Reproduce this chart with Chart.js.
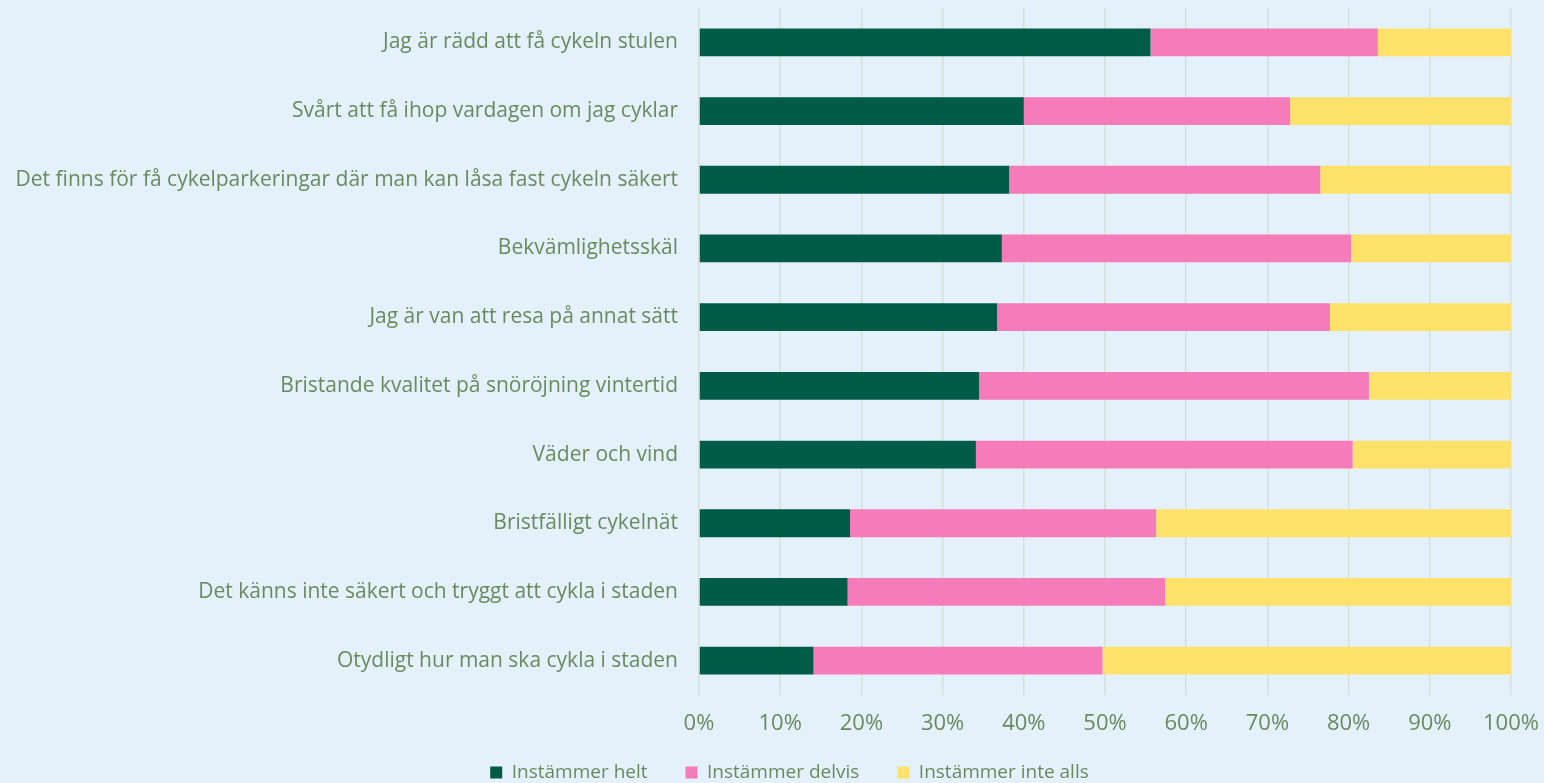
<!DOCTYPE html>
<html>
<head>
<meta charset="utf-8">
<script src="https://cdn.jsdelivr.net/npm/chart.js@4.4.0/dist/chart.umd.min.js"></script>
<style>
  html, body { margin: 0; padding: 0; background: #e4f1fb; }
  #wrap { width: 1544px; height: 783px; position: relative; }
</style>
</head>
<body>
<div id="wrap"><canvas id="chart"></canvas></div>
<script>
var categories = [
  "Jag är rädd att få cykeln stulen",
  "Svårt att få ihop vardagen om jag cyklar",
  "Det finns för få cykelparkeringar där man kan låsa fast cykeln säkert",
  "Bekvämlighetsskäl",
  "Jag är van att resa på annat sätt",
  "Bristande kvalitet på snöröjning vintertid",
  "Väder och vind",
  "Bristfälligt cykelnät",
  "Det känns inte säkert och tryggt att cykla i staden",
  "Otydligt hur man ska cykla i staden"
];
var seriesNames = ["Instämmer helt", "Instämmer delvis", "Instämmer inte alls"];
var helt    = [55.6, 40.0, 38.2, 37.3, 36.7, 34.5, 34.1, 18.6, 18.3, 14.1];
var delvis  = [28.0, 32.8, 38.3, 43.0, 41.0, 48.0, 46.4, 37.7, 39.1, 35.6];
var inteAlls= [16.4, 27.2, 23.5, 19.7, 22.3, 17.5, 19.5, 43.7, 42.6, 50.3];
var xTicks = [0, 10, 20, 30, 40, 50, 60, 70, 80, 90, 100];

var textColor = "#6a8a5e";
var fontFam = "'Open Sans', 'Noto Sans', sans-serif";

// fixed legend height so the plot ends where the reference does,
// then stretch the legend box up a bit and move it right like the reference
var legendPlace = {
  id: 'legendPlace',
  afterInit: function (chart) {
    var lg = chart.legend;
    var fit = lg.fit;
    lg.fit = function () {
      fit.call(this);
      this.height = 48;
    };
  },
  afterLayout: function (chart) {
    var lg = chart.legend;
    lg.top -= 10;
    lg.height = lg.bottom - lg.top;
    lg.left += 34; lg.right += 34;
  }
};

new Chart(document.getElementById("chart"), {
  type: 'bar',
  data: {
    labels: categories,
    datasets: [
      { label: seriesNames[0], data: helt, backgroundColor: "#005c46" },
      { label: seriesNames[1], data: delvis, backgroundColor: "#f57bb9" },
      { label: seriesNames[2], data: inteAlls, backgroundColor: "#fce26a" }
    ]
  },
  plugins: [legendPlace],
  options: {
    indexAxis: 'y',
    responsive: true,
    maintainAspectRatio: false,
    animation: false,
    categoryPercentage: 0.81,
    barPercentage: 0.5,
    layout: { padding: { top: 8, right: 33, left: 0, bottom: 0 } },
    plugins: {
      tooltip: { enabled: false },
      legend: {
        position: 'bottom',
        labels: {
          color: textColor,
          font: { family: fontFam, size: 19 },
          boxWidth: 12,
          boxHeight: 12,
          padding: 38
        }
      }
    },
    scales: {
      x: {
        stacked: true,
        min: 0,
        max: 100,
        afterBuildTicks: function (scale) {
          scale.ticks = xTicks.map(function (v) { return { value: v }; });
        },
        afterFit: function (scale) {
          scale.height = 40;
          scale.paddingLeft = 0;
          scale.paddingRight = 0;
        },
        ticks: {
          color: textColor,
          font: { family: fontFam, size: 22 },
          padding: 16,
          callback: function (v) { return v + '%'; }
        },
        grid: { color: "#d6e0d6", lineWidth: 1.5, drawTicks: false },
        border: { display: false }
      },
      y: {
        stacked: true,
        afterFit: function (scale) {
          scale.width = 699;
          scale.paddingTop = 0;
          scale.paddingBottom = 0;
        },
        ticks: {
          color: textColor,
          font: { family: fontFam, size: 21 },
          padding: 21
        },
        grid: { display: false, drawTicks: false },
        border: { display: false }
      }
    }
  }
});
</script>
</body>
</html>
